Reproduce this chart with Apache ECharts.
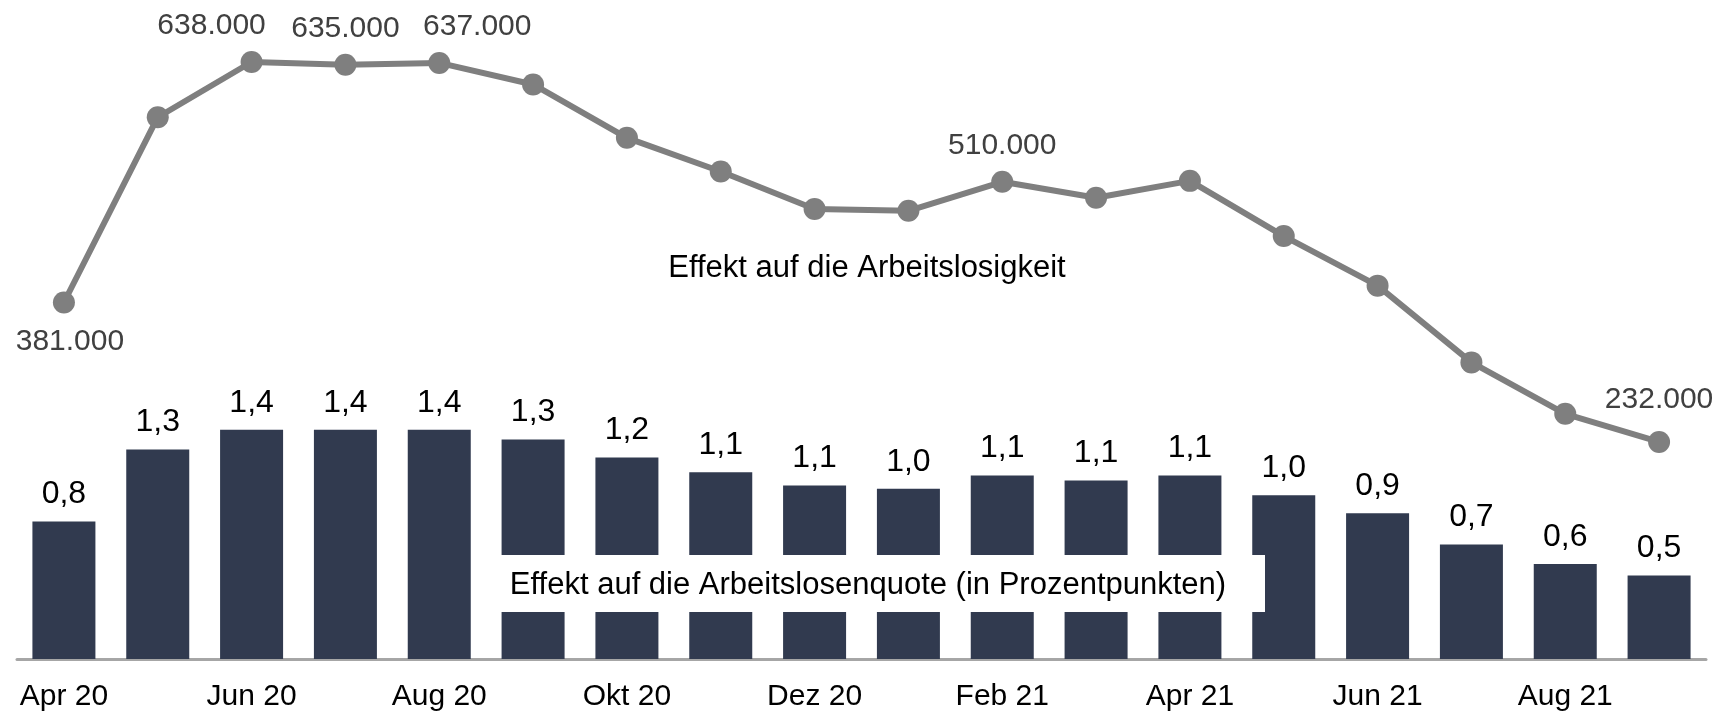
<!DOCTYPE html>
<html lang="de">
<head>
<meta charset="UTF-8">
<title>Effekt auf die Arbeitslosigkeit</title>
<script type="text/javascript" src="https://cdn.jsdelivr.net/npm/echarts/dist/echarts.min.js"></script>
<style>
  html, body { margin: 0; padding: 0; background: #fff; }
</style>
</head>
<body>
    <div id="main" style="width: 1733px;height:715px;"></div>

<script type="text/javascript">
    // Monate
    var months = ['Apr 20', 'Mai 20', 'Jun 20', 'Jul 20', 'Aug 20', 'Sep 20', 'Okt 20', 'Nov 20', 'Dez 20',
        'Jan 21', 'Feb 21', 'Mär 21', 'Apr 21', 'Mai 21', 'Jun 21', 'Jul 21', 'Aug 21', 'Sep 21'];

    // Effekt auf die Arbeitslosenquote (Prozentpunkte)
    var quoteValues = [0.84, 1.28, 1.40, 1.40, 1.40, 1.34, 1.23, 1.14, 1.06, 1.04, 1.12, 1.09, 1.12, 1.00, 0.89, 0.70, 0.58, 0.51];

    // Effekt auf die Arbeitslosigkeit (Personen)
    var personValues = [381000, 579000, 638000, 635000, 637000, 614000, 557000, 521000, 481000, 479000,
        510000, 493000, 511000, 452000, 399000, 317000, 262000, 232000];

    // welche Punkte der Linie beschriftet werden
    var labeledPoints = [0, 2, 3, 4, 10, 17];

    var font = "'Liberation Sans', Arial, sans-serif";

    var myChart = echarts.init(document.getElementById('main'));

    function fmtThousands(v) {
        return String(v).replace(/\B(?=(\d{3})+(?!\d))/g, '.');
    }

    var lineData = personValues.map(function (v, i) {
        var item = { value: v };
        if (labeledPoints.indexOf(i) >= 0) {
            item.label = { show: true, position: i === 0 ? 'bottom' : 'top' };
            if (i === 0) item.label.offset = [6, 3];
            if (i === 2) item.label.offset = [-40, 0];
            if (i === 4) item.label.offset = [38, 0];
            if (i === 17) item.label.offset = [0, -6];
        }
        return item;
    });

    var option = {
        animation: false,
        grid: { left: 17, right: 27, top: 4, bottom: 56 },
        xAxis: {
            type: 'category',
            data: months,
            axisTick: { show: false },
            axisLine: { lineStyle: { color: '#a6a6a6', width: 3 } },
            axisLabel: {
                interval: 1,
                margin: 23,
                color: '#000',
                fontSize: 30,
                fontFamily: font
            }
        },
        yAxis: [
            { type: 'value', min: 0, max: 4, show: false, splitLine: { show: false } },
            { type: 'value', min: 0, max: 700000, show: false, splitLine: { show: false } }
        ],
        series: [
            {
                name: 'Arbeitslosenquote',
                type: 'bar',
                yAxisIndex: 0,
                data: quoteValues,
                barWidth: 63,
                itemStyle: { color: '#313a4f' },
                label: {
                    show: true,
                    position: 'top',
                    distance: 11,
                    color: '#000',
                    fontSize: 32,
                    fontFamily: font,
                    formatter: function (p) {
                        return p.value.toFixed(1).replace('.', ',');
                    }
                }
            },
            {
                name: 'Arbeitslosigkeit',
                type: 'line',
                yAxisIndex: 1,
                data: lineData,
                symbol: 'circle',
                symbolSize: 22,
                lineStyle: { color: '#7f7f7f', width: 6 },
                itemStyle: { color: '#7f7f7f' },
                label: {
                    show: false,
                    distance: 10,
                    color: '#404040',
                    fontSize: 30,
                    fontFamily: font,
                    formatter: function (p) {
                        return fmtThousands(p.value);
                    }
                },
                z: 5
            }
        ],
        graphic: [
            {
                type: 'text',
                x: 867, y: 268,
                z: 100,
                style: {
                    text: 'Effekt auf die Arbeitslosigkeit',
                    fill: '#000',
                    font: '31px ' + font,
                    textAlign: 'center',
                    textVerticalAlign: 'middle'
                }
            },
            {
                type: 'group',
                z: 100,
                children: [
                    {
                        type: 'rect',
                        shape: { x: 473, y: 555, width: 792, height: 57 },
                        style: { fill: '#fff' },
                        z: 100
                    },
                    {
                        type: 'text',
                        x: 868, y: 585,
                        z: 101,
                        style: {
                            text: 'Effekt auf die Arbeitslosenquote (in Prozentpunkten)',
                            fill: '#000',
                            font: '31px ' + font,
                            textAlign: 'center',
                            textVerticalAlign: 'middle'
                        }
                    }
                ]
            }
        ]
    };

    myChart.setOption(option);
</script>
</body>
</html>
